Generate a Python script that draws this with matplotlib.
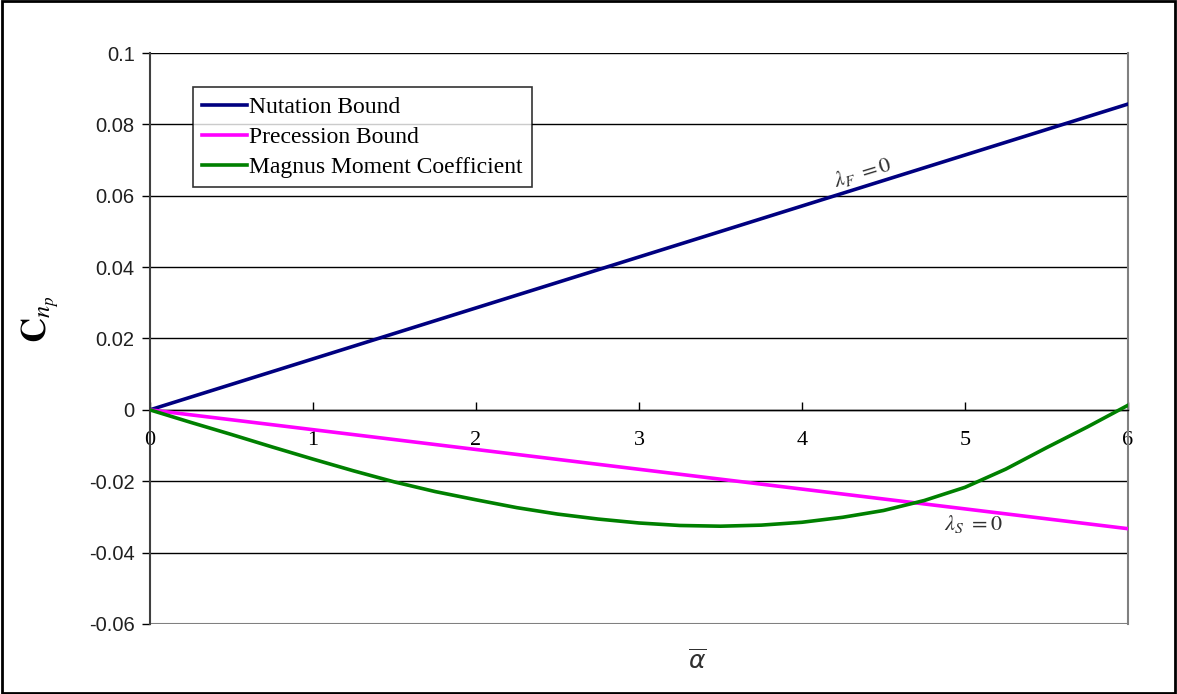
import matplotlib.pyplot as plt
from matplotlib.patches import Rectangle

# data
alpha_lin = [0, 6]
nutation = [0, 0.0857]
precession = [0, -0.0333]

alpha_magnus = [0, 0.25, 0.5, 0.75, 1, 1.25, 1.5, 1.75, 2, 2.25, 2.5, 2.75, 3,
                3.25, 3.5, 3.75, 4, 4.25, 4.5, 4.75, 5, 5.25, 5.5, 5.75, 6]
magnus = [0, -0.0035, -0.0069, -0.0104, -0.0138, -0.0171, -0.0202, -0.0229, -0.0252,
          -0.0274, -0.0292, -0.0306, -0.0317, -0.0324, -0.0326, -0.0323, -0.0315,
          -0.0301, -0.0282, -0.0254, -0.0217, -0.0166, -0.0106, -0.0048, 0.0013]

x_ticks = [0, 1, 2, 3, 4, 5, 6]
y_ticks = [-0.06, -0.04, -0.02, 0, 0.02, 0.04, 0.06, 0.08, 0.1]
y_labels = ['-0.06', '-0.04', '-0.02', '0', '0.02', '0.04', '0.06', '0.08', '0.1']

fig = plt.figure(figsize=(11.77, 6.94), dpi=100)
ax = fig.add_axes([0.1274, 0.1009, 0.8310, 0.8227])

# grid lines
for y in y_ticks[1:]:
    ax.axhline(y, color='black', linewidth=1.0, zorder=1)
ax.axhline(-0.06, color='#808080', linewidth=1.5, zorder=1)

ax.plot(alpha_lin, nutation, color='#000080', linewidth=2.6, label='Nutation Bound', zorder=3)
ax.plot(alpha_lin, precession, color='#FF00FF', linewidth=2.6, label='Precession Bound', zorder=3)
ax.plot(alpha_magnus, magnus, color='#008000', linewidth=2.6, label='Magnus Moment Coefficient', zorder=3)

ax.set_xlim(0, 6)
ax.set_ylim(-0.06, 0.1)

ax.spines['top'].set_visible(False)
ax.spines['right'].set_color('#808080')
ax.spines['right'].set_linewidth(1.5)
ax.spines['bottom'].set_position(('data', 0))
ax.spines['bottom'].set_linewidth(1.0)
ax.spines['left'].set_color('#404040')
ax.spines['left'].set_linewidth(1.5)

ax.set_xticks(x_ticks)
ax.set_xticklabels([str(v) for v in x_ticks], fontfamily='Liberation Serif', fontsize=16)
ax.tick_params(axis='x', direction='in', length=6, width=1, pad=15)
ax.set_yticks(y_ticks)
ax.set_yticklabels(y_labels, fontfamily='Liberation Sans', fontsize=14.5, color='#202020')
ax.tick_params(axis='y', direction='out', length=6, width=1, pad=5)

ax.text(4.37, 0.0665, r'$\lambda_F\ =0$', rotation=17, fontsize=16,
        ha='center', va='center', color='#303030', math_fontfamily='stix')
ax.text(5.05, -0.032, r'$\lambda_S\ =0$', fontsize=16,
        ha='center', va='center', color='#303030', math_fontfamily='stix')

fig.text(0.034, 0.54, r'$\mathbf{C}_{\boldsymbol{n_p}}$', rotation=90, fontsize=25,
         ha='center', va='center', math_fontfamily='stix')
fig.text(0.592, 0.048, r'$\overline{\alpha}$', fontsize=18, ha='center', va='center',
         color='#303030', math_fontfamily='dejavusans')

leg = ax.legend(loc='upper left', bbox_to_anchor=(0.044, 0.94), borderaxespad=0,
                frameon=True, fancybox=False, edgecolor='black', handlelength=1.9,
                handletextpad=0.1, borderpad=0.38, labelspacing=0.37,
                prop={'family': 'Liberation Serif', 'size': 17})
leg.get_frame().set_linewidth(1.2)
leg.set_zorder(5)

fig.patches.append(Rectangle((0.002, 0.002), 0.996, 0.996, transform=fig.transFigure,
                             fill=False, edgecolor='black', linewidth=2))

fig.savefig('out.png', dpi=100)
